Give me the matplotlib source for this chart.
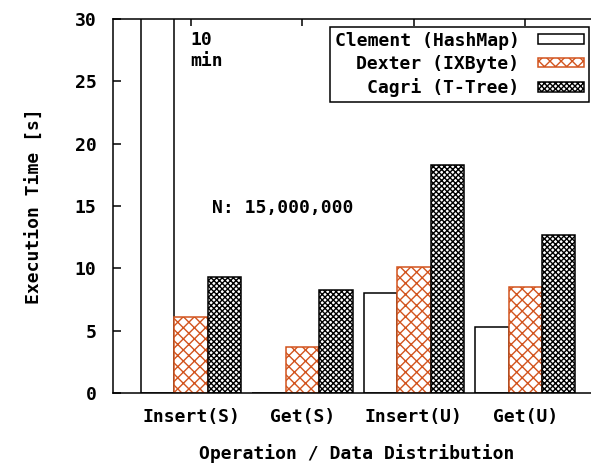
import numpy as np
import matplotlib
matplotlib.use("Agg")
import matplotlib.pyplot as plt

plt.rcParams['font.family'] = ['DejaVu Sans Mono']
plt.rcParams['font.weight'] = 'bold'
plt.rcParams['hatch.linewidth'] = 1.0

# data (seconds); Clement Insert(S) took ~10 min, runs off the top
operations = ['Insert(S)', 'Get(S)', 'Insert(U)', 'Get(U)']
clement = [600.0, 0.0, 8.0, 5.3]
dexter = [6.1, 3.7, 10.1, 8.5]
cagri = [9.3, 8.3, 18.3, 12.7]
labels = ['Clement (HashMap)', 'Dexter (IXByte)', 'Cagri (T-Tree)']
yticks = [0, 5, 10, 15, 20, 25, 30]

orange = '#d2541e'
fs = 13

fig = plt.figure(figsize=(5.91, 4.69), dpi=100)
ax = fig.add_axes([113/591, 1 - 393/469, 487/591, 374/469])

x = np.arange(len(operations))
w = 0.30
ax.bar(x - w, clement, w, color='white', edgecolor='black', linewidth=1.1, label=labels[0])
ax.bar(x, dexter, w, color='white', edgecolor=orange, hatch='xxx', linewidth=1.1, label=labels[1])
ax.bar(x + w, cagri, w, color='white', edgecolor='black', hatch='xxxxxx', linewidth=1.1, label=labels[2])

ax.set_ylim(0, 30)
ax.set_xlim(-0.70, 3.67)
ax.set_yticks(yticks)
ax.set_xticks(x)
ax.set_xticklabels(operations, fontsize=fs, fontweight='bold')
ax.set_yticklabels([str(t) for t in yticks], fontsize=fs, fontweight='bold')
ax.tick_params(axis='y', direction='in', length=6, width=1.1, pad=12)
ax.tick_params(axis='x', direction='in', length=5, width=1.1, pad=11,
               bottom=False, top=True)
for s in ax.spines.values():
    s.set_linewidth(1.1)

ax.set_ylabel('Execution Time [s]', fontsize=fs, fontweight='bold', labelpad=22)
ax.set_xlabel('Operation / Data Distribution', fontsize=fs, fontweight='bold', labelpad=13)

ax.text(-0.01, 29.0, '10\nmin', fontsize=fs, fontweight='bold', ha='left', va='top',
        linespacing=1.15)
ax.text(0.19, 14.8, 'N: 15,000,000', fontsize=fs, fontweight='bold', ha='left', va='center')

leg = ax.legend(loc='upper right', bbox_to_anchor=(589/591, 1 - 27/469),
                bbox_transform=fig.transFigure, borderaxespad=0, markerfirst=False,
                fancybox=False, framealpha=1, edgecolor='black', fontsize=fs,
                handlelength=2.6, handleheight=0.45, handletextpad=1.0,
                labelspacing=0.3, borderpad=0.25)
leg.get_frame().set_linewidth(1.1)
for t in leg.get_texts():
    t.set_fontweight('bold')

fig.savefig('out.png', dpi=100)
plt.close()
